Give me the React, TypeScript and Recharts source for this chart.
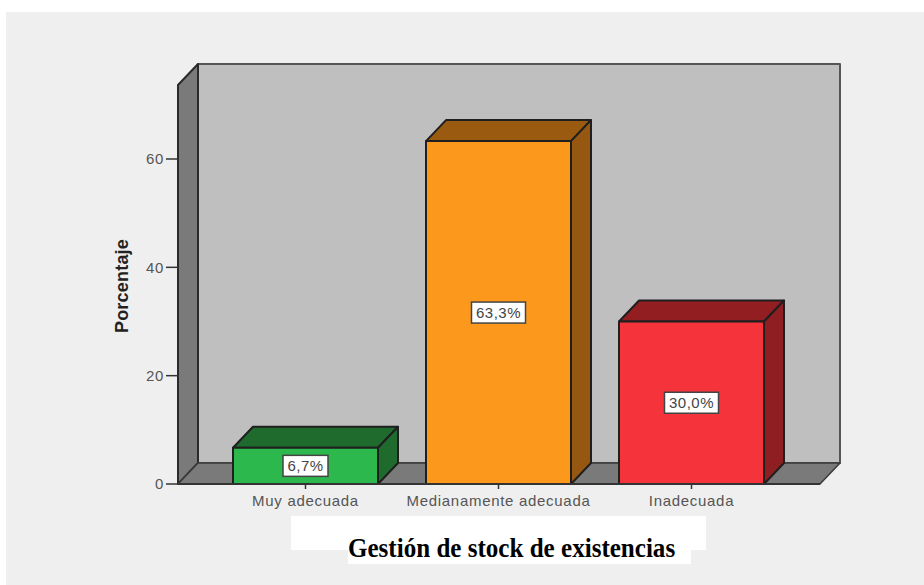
import { BarChart, Bar, XAxis, YAxis, ReferenceArea, LabelList } from "recharts";

const CATEGORIES = ["Muy adecuada", "Medianamente adecuada", "Inadecuada"];
const VALUES = [6.7, 63.3, 30.0];
const Y_TICKS = [0, 20, 40, 60];
const Y_MAX = 73.66;
const FRONT_COLORS = ["#2DB84D", "#FC991C", "#F4333B"];
const TOP_COLORS = ["#1F6B2D", "#9A5A10", "#931E22"];
const SIDE_COLORS = ["#1F6B2D", "#965810", "#8F1E22"];

const DX = 20;
const DY = 21;
const PAD_LEFT = 31;
const PAD_RIGHT = 32;
const OUTLINE = "#1f1f1f";

const data = CATEGORIES.map((name, i) => ({ name, value: VALUES[i] }));

function pts(list: number[][]) {
  return list.map((p) => p.join(",")).join(" ");
}

function Walls({ x: rawX, y, width, height }: any) {
  // the reference area only spans the padded band, the walls span the whole plot
  const x = rawX - PAD_LEFT;
  const r = rawX + width + PAD_RIGHT;
  const b = y + height;
  return (
    <g strokeLinejoin="round">
      <polygon
        points={pts([[x + DX, y - DY], [r + DX, y - DY], [r + DX, b - DY], [x + DX, b - DY]])}
        fill="#BFBFBF"
        stroke="#555"
        strokeWidth={2}
      />
      <polygon
        points={pts([[x, y], [x + DX, y - DY], [x + DX, b - DY], [x, b]])}
        fill="#7A7A7A"
        stroke="#2a2a2a"
        strokeWidth={2}
      />
      <polygon
        points={pts([[x, b], [x + DX, b - DY], [r + DX, b - DY], [r, b]])}
        fill="#7A7A7A"
        stroke="#3a3a3a"
        strokeWidth={1.5}
      />
    </g>
  );
}

function Box3D({ x, y, width, height, index }: any) {
  const r = x + width;
  const b = y + height;
  return (
    <g stroke={OUTLINE} strokeWidth={2} strokeLinejoin="round">
      <polygon
        points={pts([[x, y], [x + DX, y - DY], [r + DX, y - DY], [r, y]])}
        fill={TOP_COLORS[index]}
      />
      <polygon
        points={pts([[r, y], [r + DX, y - DY], [r + DX, b - DY], [r, b]])}
        fill={SIDE_COLORS[index]}
      />
      <rect x={x} y={y} width={width} height={height} fill={FRONT_COLORS[index]} />
    </g>
  );
}

function ValueBadge({ x, y, width, height, value }: any) {
  const cx = x + width / 2;
  const cy = y + height / 2;
  const text = Number(value).toFixed(1).replace(".", ",") + "%";
  const w = text.length > 4 ? 54 : 45;
  return (
    <g>
      <rect x={cx - w / 2} y={cy - 10.5} width={w} height={21} fill="#fff" stroke="#444" strokeWidth={1.5} />
      <text
        x={cx}
        y={cy + 5}
        textAnchor="middle"
        fontFamily="Liberation Sans"
        fontSize={15}
        letterSpacing={0.5}
        fill="#444"
      >
        {text}
      </text>
    </g>
  );
}

function AxisTitle() {
  return (
    <text
      transform="rotate(-90 128 286)"
      x={128}
      y={286}
      textAnchor="middle"
      fontFamily="Liberation Sans"
      fontWeight="bold"
      fontSize={18}
      letterSpacing={0.2}
      fill="#222"
    >
      Porcentaje
    </text>
  );
}

export default function App() {
  return (
    <div style={{ position: "absolute", left: 0, top: 0, width: 924, height: 585, background: "#fff", overflow: "hidden" }}>
      <div style={{ position: "absolute", left: 6, top: 12, width: 918, height: 573, background: "#EFEFEF" }} />
      <div style={{ position: "absolute", left: 291, top: 516, width: 415, height: 34, background: "#fff" }} />
      <div style={{ position: "absolute", left: 348, top: 540, width: 343, height: 24, background: "#fff" }} />
      <div
        style={{
          position: "absolute",
          left: 348,
          top: 531,
          fontFamily: "Liberation Serif",
          fontWeight: "bold",
          fontSize: 28,
          lineHeight: "34px",
          whiteSpace: "nowrap",
          color: "#000",
          transformOrigin: "left center",
          transform: "scaleX(0.895)",
        }}
      >
        Gestión de stock de existencias
      </div>
      <div style={{ position: "absolute", left: 0, top: 0 }}>
        <BarChart
          width={924}
          height={585}
          data={data}
          margin={{ top: 85, right: 104, bottom: 71, left: 118 }}
          barSize={145}
        >
          <XAxis
            dataKey="name"
            height={30}
            padding={{ left: PAD_LEFT, right: PAD_RIGHT }}
            tickSize={5}
            tickMargin={6}
            interval={0}
            axisLine={{ stroke: "#333", strokeWidth: 2 }}
            tickLine={{ stroke: "#333", strokeWidth: 1.5 }}
            tick={{ fill: "#555", fontSize: 15, fontFamily: "Liberation Sans", letterSpacing: 0.7 }}
          />
          <YAxis
            width={60}
            domain={[0, Y_MAX]}
            ticks={Y_TICKS}
            tickSize={12}
            interval={0}
            axisLine={false}
            tickLine={{ stroke: "#333", strokeWidth: 1.5 }}
            tick={{ fill: "#555", fontSize: 15, fontFamily: "Liberation Sans", letterSpacing: 0.6 }}
            label={<AxisTitle />}
          />
          <ReferenceArea y1={0} y2={Y_MAX} shape={<Walls />} ifOverflow="visible" />
          <Bar dataKey="value" isAnimationActive={false} shape={<Box3D />}>
            <LabelList dataKey="value" content={<ValueBadge />} />
          </Bar>
        </BarChart>
      </div>
    </div>
  );
}
